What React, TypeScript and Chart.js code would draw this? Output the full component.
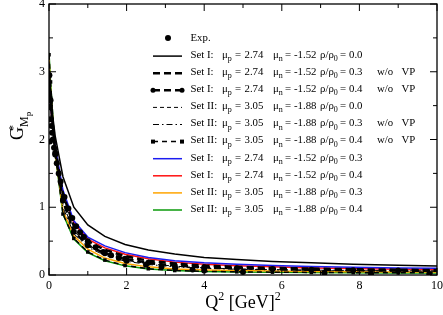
import React, { useEffect, useRef } from 'react';
import { Chart, registerables } from 'chart.js';
Chart.register(...registerables);

// Q^2 grid of the calculations (Q = 0, 0.2, ..., 3.2 GeV)
const q2 = [0, 0.04, 0.16, 0.36, 0.64, 1.0, 1.44, 1.96, 2.56, 3.24, 4.0, 4.84, 5.76, 6.76, 7.84, 9.0, 10.24];

const setI_00 = [2.74, 2.6, 2.05, 1.45, 1.0, 0.74, 0.57, 0.45, 0.37, 0.31, 0.26, 0.23, 0.2, 0.18, 0.16, 0.145, 0.13];
const setI_03_noVP = [2.85, 2.5, 1.88, 1.2, 0.72, 0.5, 0.37, 0.28, 0.21, 0.17, 0.14, 0.12, 0.105, 0.095, 0.085, 0.078, 0.072];
const setI_04_noVP = [2.95, 2.58, 1.8, 1.1, 0.64, 0.44, 0.32, 0.24, 0.18, 0.14, 0.115, 0.1, 0.088, 0.078, 0.07, 0.065, 0.06];
const setII_00 = [3.05, 2.7, 1.85, 1.05, 0.65, 0.44, 0.31, 0.22, 0.165, 0.13, 0.105, 0.09, 0.08, 0.072, 0.066, 0.062, 0.058];
const setII_03_noVP = [3.15, 2.78, 1.82, 1.0, 0.61, 0.41, 0.29, 0.205, 0.155, 0.12, 0.098, 0.085, 0.075, 0.068, 0.063, 0.058, 0.055];
const setII_04_noVP = [3.25, 2.85, 1.8, 0.9, 0.54, 0.34, 0.22, 0.14, 0.092, 0.066, 0.054, 0.047, 0.042, 0.038, 0.035, 0.032, 0.031];
const setI_03 = [2.88, 2.5, 1.9, 1.25, 0.8, 0.56, 0.43, 0.33, 0.26, 0.21, 0.18, 0.16, 0.14, 0.125, 0.115, 0.105, 0.1];
const setI_04 = [2.92, 2.48, 1.87, 1.21, 0.77, 0.53, 0.4, 0.305, 0.24, 0.19, 0.16, 0.135, 0.12, 0.105, 0.095, 0.085, 0.075];
const setII_03 = [3.2, 2.75, 1.8, 0.95, 0.58, 0.38, 0.25, 0.17, 0.12, 0.09, 0.075, 0.065, 0.058, 0.052, 0.048, 0.045, 0.042];
const setII_04 = [3.28, 2.85, 1.78, 0.9, 0.53, 0.33, 0.21, 0.135, 0.09, 0.065, 0.052, 0.045, 0.04, 0.036, 0.033, 0.031, 0.03];

// Experimental data
const expQ2 = [0.01, 0.015, 0.02, 0.025, 0.04, 0.06, 0.08, 0.1, 0.13, 0.16, 0.2, 0.25, 0.3, 0.4, 0.5, 0.6, 0.7, 0.8, 0.9, 1.0, 1.2, 1.4, 1.6, 1.8, 2.0, 2.5, 2.9, 3.25, 3.7, 4.0, 5.0, 7.1, 8.3, 9.8];
const expG = [2.95, 2.62, 2.48, 1.97, 2.3, 2.2, 2.1, 2.0, 1.88, 1.78, 1.65, 1.5, 1.38, 1.15, 0.98, 0.84, 0.72, 0.63, 0.56, 0.5, 0.41, 0.34, 0.29, 0.25, 0.21, 0.15, 0.12, 0.1, 0.08, 0.065, 0.045, 0.03, 0.018, 0.013];

// Axis ticks
const xMajor = [0, 2, 4, 6, 8, 10];
const xMinor = [1, 3, 5, 7, 9];
const yMajor = [0, 1, 2, 3, 4];
const yMinor = [0.5, 1.5, 2.5, 3.5];

// Legend text
const legendSet = ['Set I:', 'Set I:', 'Set I:', 'Set II:', 'Set II:', 'Set II:', 'Set I:', 'Set I:', 'Set II:', 'Set II:'];
const legendMup = ['2.74', '2.74', '2.74', '3.05', '3.05', '3.05', '2.74', '2.74', '3.05', '3.05'];
const legendMun = ['-1.52', '-1.52', '-1.52', '-1.88', '-1.88', '-1.88', '-1.52', '-1.52', '-1.88', '-1.88'];
const legendRho = ['0.0', '0.3', '0.4', '0.0', '0.3', '0.4', '0.3', '0.4', '0.3', '0.4'];
const legendVP = [false, true, true, false, true, true, false, false, false, false];

const SERIF = '"Liberation Serif", "DejaVu Serif", serif';
const LF = 10.8;
const LS = 8;

const pts = (ys: number[]) => q2.map((x, i) => ({ x, y: ys[i] }));

type Part = { t: string; size: number; dy: number };
function drawParts(ctx: CanvasRenderingContext2D, parts: Part[], x: number, y: number) {
  let cx = x;
  for (const p of parts) {
    ctx.font = `${p.size}px ${SERIF}`;
    ctx.fillText(p.t, cx, y + p.dy);
    cx += ctx.measureText(p.t).width;
  }
  return cx;
}
function partsWidth(ctx: CanvasRenderingContext2D, parts: Part[]) {
  let w = 0;
  for (const p of parts) {
    ctx.font = `${p.size}px ${SERIF}`;
    w += ctx.measureText(p.t).width;
  }
  return w;
}
function txt(ctx: CanvasRenderingContext2D, t: string, size: number, x: number, y: number) {
  ctx.font = `${size}px ${SERIF}`;
  ctx.fillText(t, x, y);
  return x + ctx.measureText(t).width;
}

const decorPlugin = {
  id: 'decor',
  afterDraw(chart: any) {
    const ctx: CanvasRenderingContext2D = chart.ctx;
    const { left, right, top, bottom } = chart.chartArea;
    const xs = chart.scales.x;
    const ys = chart.scales.y;
    ctx.save();
    ctx.strokeStyle = '#000';
    ctx.fillStyle = '#000';
    ctx.setLineDash([]);
    ctx.lineWidth = 1.3;
    ctx.strokeRect(left, top, right - left, bottom - top);
    ctx.lineWidth = 1;
    const tick = (x1: number, y1: number, x2: number, y2: number) => {
      ctx.beginPath();
      ctx.moveTo(x1, y1);
      ctx.lineTo(x2, y2);
      ctx.stroke();
    };
    xMajor.forEach((v) => { const p = xs.getPixelForValue(v); tick(p, bottom, p, bottom - 7); tick(p, top, p, top + 7); });
    xMinor.forEach((v) => { const p = xs.getPixelForValue(v); tick(p, bottom, p, bottom - 4); tick(p, top, p, top + 4); });
    yMajor.forEach((v) => { const p = ys.getPixelForValue(v); tick(left, p, left + 7, p); tick(right, p, right - 7, p); });
    yMinor.forEach((v) => { const p = ys.getPixelForValue(v); tick(left, p, left + 4, p); tick(right, p, right - 4, p); });

    // x title
    ctx.textBaseline = 'alphabetic';
    ctx.textAlign = 'left';
    const xt: Part[] = [
      { t: 'Q', size: 18, dy: 0 },
      { t: '2', size: 12, dy: -8 },
      { t: ' [GeV]', size: 18, dy: 0 },
      { t: '2', size: 12, dy: -8 },
    ];
    const w = partsWidth(ctx, xt);
    drawParts(ctx, xt, (left + right) / 2 - w / 2, 308);

    // y title (rotated)
    ctx.save();
    ctx.translate(23, 140);
    ctx.rotate(-Math.PI / 2);
    ctx.font = `18px ${SERIF}`;
    ctx.fillText('G', 0, 0);
    const gw = ctx.measureText('G').width;
    ctx.font = `12px ${SERIF}`;
    ctx.fillText('*', gw - 4, -6);
    ctx.fillText('M', gw, 5);
    const mw = ctx.measureText('M').width;
    ctx.font = `9px ${SERIF}`;
    ctx.fillText('p', gw + mw, 8);
    ctx.restore();

    // legend
    const rowY = (k: number) => 38 + 17.1 * k;
    const lx1 = 153, lx2 = 182;
    ctx.beginPath();
    ctx.arc(168, rowY(0), 3, 0, Math.PI * 2);
    ctx.fill();
    ctx.textBaseline = 'middle';
    txt(ctx, 'Exp.', LF, 190.5, rowY(0));
    const dsets = chart.data.datasets.filter((d: any) => d.legendRow !== undefined);
    dsets.forEach((d: any) => {
      const i = d.legendRow;
      const y = rowY(i + 1);
      ctx.save();
      ctx.strokeStyle = d.borderColor;
      ctx.lineWidth = d.borderWidth;
      ctx.setLineDash(d.borderDash || []);
      ctx.beginPath();
      ctx.moveTo(lx1, y + 1);
      ctx.lineTo(lx2, y + 1);
      ctx.stroke();
      ctx.setLineDash([]);
      ctx.fillStyle = '#000';
      if (d.pointStyle === 'circle' && d.pointRadius > 0) {
        [lx1, lx2].forEach((px) => { ctx.beginPath(); ctx.arc(px, y + 1, 2.5, 0, Math.PI * 2); ctx.fill(); });
      }
      if (d.pointStyle === 'rect' && d.pointRadius > 0) {
        [lx1, lx2].forEach((px) => { ctx.fillRect(px - 2, y - 1, 4, 4); });
      }
      ctx.restore();
      ctx.fillStyle = '#000';
      ctx.textBaseline = 'middle';
      txt(ctx, legendSet[i], LF, 190.5, y);
      // mu_p column
      let x = txt(ctx, 'μ', LF, 222, y);
      txt(ctx, 'p', LS, x, y + 4);
      txt(ctx, '=', LF, 235, y);
      txt(ctx, legendMup[i], LF, 244.5, y);
      // mu_n column
      x = txt(ctx, 'μ', LF, 273, y);
      txt(ctx, 'n', LS, x, y + 4);
      txt(ctx, '=', LF, 285, y);
      txt(ctx, legendMun[i], LF, 294, y);
      // rho column
      x = txt(ctx, 'ρ/ρ', LF, 320, y);
      txt(ctx, '0', LS, x, y + 4);
      txt(ctx, '=', LF, 340, y);
      txt(ctx, legendRho[i], LF, 349, y);
      if (legendVP[i]) {
        txt(ctx, 'w/o', LF, 377, y);
        txt(ctx, 'VP', LF, 401.5, y);
      }
    });
    ctx.restore();
  },
};

export default function App() {
  const ref = useRef<HTMLCanvasElement | null>(null);
  useEffect(() => {
    document.body.style.margin = '0';
    if (!ref.current) return;
    const line = (data: number[], color: string, width: number, dash: number[], row: number, extra: any = {}) => ({
      type: 'line',
      data: pts(data),
      borderColor: color,
      backgroundColor: '#000',
      borderWidth: width,
      borderDash: dash,
      pointRadius: 0,
      tension: 0,
      fill: false,
      clip: 0,
      legendRow: row,
      order: 5,
      ...extra,
    });
    const chart = new Chart(ref.current, {
      type: 'scatter',
      data: {
        datasets: [
          {
            type: 'scatter',
            data: expQ2.map((x, i) => ({ x, y: expG[i] })),
            pointRadius: 3,
            pointStyle: 'circle',
            backgroundColor: '#000',
            borderColor: '#000',
            borderWidth: 0,
            order: 0,
            clip: 0,
          } as any,
          line(setI_00, '#000', 1.5, [], 0, { order: 2 }),
          line(setI_03_noVP, '#000', 2.5, [7, 4], 1, { order: 2 }),
          line(setI_04_noVP, '#000', 2.5, [7, 4], 2, { order: 1, pointRadius: 3, pointStyle: 'circle', pointBackgroundColor: '#000', pointBorderWidth: 0 }),
          line(setII_00, '#000', 1, [4, 3], 3, { order: 2 }),
          line(setII_03_noVP, '#000', 1, [6, 3, 1.5, 3], 4, { order: 2 }),
          line(setII_04_noVP, '#000', 1.5, [5, 4], 5, { order: 1, pointRadius: 2.5, pointStyle: 'rect', pointBackgroundColor: '#000', pointBorderWidth: 0 }),
          line(setI_03, '#1c1cf0', 1.5, [], 6),
          line(setI_04, '#ff1010', 1.5, [], 7),
          line(setII_03, '#ffa500', 1.5, [], 8),
          line(setII_04, '#0a9a0a', 1.5, [], 9),
        ] as any,
      },
      options: {
        animation: false,
        responsive: false,
        devicePixelRatio: 1,
        layout: { padding: { left: 0, right: 6, top: 4, bottom: 0 } },
        plugins: { legend: { display: false }, tooltip: { enabled: false } },
        scales: {
          x: {
            type: 'linear',
            min: 0,
            max: 10,
            grid: { display: false, drawTicks: false },
            border: { display: false },
            ticks: { stepSize: 2, padding: 4, color: '#000', font: { family: SERIF, size: 12 }, maxRotation: 0 },
            afterFit: (s: any) => { s.height = 40; s.paddingLeft = 0; s.paddingRight = 0; },
          },
          y: {
            type: 'linear',
            min: 0,
            max: 4,
            grid: { display: false, drawTicks: false },
            border: { display: false },
            ticks: { stepSize: 1, padding: 4, color: '#000', font: { family: SERIF, size: 12 } },
            afterFit: (s: any) => { s.width = 49; s.paddingTop = 0; s.paddingBottom = 0; },
          },
        },
      } as any,
      plugins: [decorPlugin],
    });
    return () => chart.destroy();
  }, []);
  return (
    <div style={{ width: 443, height: 315 }}>
      <canvas ref={ref} width={443} height={315} style={{ width: 443, height: 315, display: 'block' }} />
    </div>
  );
}
